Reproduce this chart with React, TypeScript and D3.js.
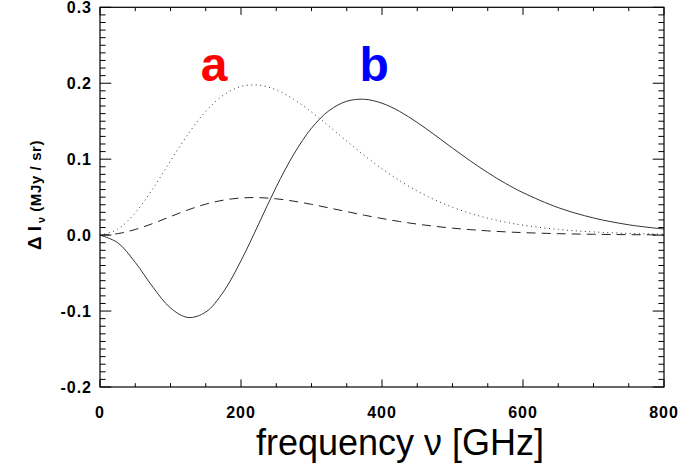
import React from "react";
import * as d3 from "d3";

const freq = [0, 25, 50, 75, 100, 125, 150, 175, 200, 225, 250, 275, 300, 325, 350, 375, 400, 425, 450, 475, 500, 525, 550, 575, 600, 650, 700, 750, 800];
const solidVals = [0, -0.0099, -0.0359, -0.0685, -0.0959, -0.1085, -0.1013, -0.0748, -0.0337, 0.0145, 0.0635, 0.1067, 0.1408, 0.164, 0.1763, 0.1789, 0.1737, 0.1629, 0.1483, 0.1318, 0.1146, 0.0979, 0.0823, 0.0682, 0.0559, 0.0362, 0.0226, 0.0136, 0.008];
const dottedVals = [0, 0.0077, 0.0295, 0.0612, 0.0976, 0.1331, 0.163, 0.1843, 0.1957, 0.1975, 0.1913, 0.1787, 0.1621, 0.1433, 0.1238, 0.1049, 0.0874, 0.0717, 0.058, 0.0464, 0.0367, 0.0287, 0.0223, 0.0171, 0.0131, 0.0075, 0.0042, 0.0023, 0.0012];
const dashedVals = [0, 0.0019, 0.0074, 0.0153, 0.0244, 0.0333, 0.0408, 0.0461, 0.0489, 0.0494, 0.0478, 0.0447, 0.0405, 0.0358, 0.031, 0.0262, 0.0219, 0.0179, 0.0145, 0.0116, 0.0092, 0.0072, 0.0056, 0.0043, 0.0033, 0.0019, 0.0011, 0.0006, 0.0003];

const xTicks = [0, 200, 400, 600, 800];
const xTickLabels = ["0", "200", "400", "600", "800"];
const yTicks = [-0.2, -0.1, 0.0, 0.1, 0.2, 0.3];
const yTickLabels = ["-0.2", "-0.1", "0.0", "0.1", "0.2", "0.3"];
const annotations = [
  { text: "a", freq: 162, value: 0.203, color: "#ff0000" },
  { text: "b", freq: 389, value: 0.203, color: "#0000ff" },
];

const W = 690;
const H = 463;
const L = 100, R = 664, T = 7.3, B = 387;

export default function App() {
  const x = d3.scaleLinear().domain([0, 800]).range([L, R]);
  const y = d3.scaleLinear().domain([-0.2, 0.3]).range([B, T]);
  const mk = (vals: number[]) =>
    d3
      .line<number>()
      .x((_, i) => x(freq[i]))
      .y((v) => y(v))
      .curve(d3.curveCatmullRom.alpha(0.5))(vals) as string;

  const xMinor = d3.range(0, 801, 50);
  const yMinor = d3.range(-20, 31, 1).map((k) => k / 100);
  const isMajorY = (v: number) => Math.abs(Math.round(v * 10) - v * 10) < 1e-6;
  const isMajorX = (v: number) => v % 200 === 0;

  const font = "'Liberation Sans', Arial, Helvetica, sans-serif";
  const xMaj = 7.6, xMin = 3.8, yMaj = 11.3, yMin = 5.6;

  return (
    <svg
      width={W}
      height={H}
      style={{ position: "absolute", left: 0, top: 0, background: "#fff" }}
      fontFamily={font}
    >
      <rect x={0} y={0} width={W} height={H} fill="#fff" />
      {/* curves */}
      <path d={mk(solidVals)} fill="none" stroke="#333" strokeWidth={1} />
      <path d={mk(dottedVals)} fill="none" stroke="#333" strokeWidth={1} strokeDasharray="1,3.5" />
      <path d={mk(dashedVals)} fill="none" stroke="#222" strokeWidth={1} strokeDasharray="9,6" />

      {/* frame */}
      <rect x={L} y={T} width={R - L} height={B - T} fill="none" stroke="#000" strokeWidth={1.2} />

      {/* x ticks */}
      {xMinor.map((v) => {
        const len = isMajorX(v) ? xMaj : xMin;
        return (
          <g key={"xt" + v}>
            <line x1={x(v)} x2={x(v)} y1={B} y2={B - len} stroke="#000" strokeWidth={1} />
            <line x1={x(v)} x2={x(v)} y1={T} y2={T + len} stroke="#000" strokeWidth={1} />
          </g>
        );
      })}
      {/* y ticks */}
      {yMinor.map((v) => {
        const len = isMajorY(v) ? yMaj : yMin;
        return (
          <g key={"yt" + v}>
            <line x1={L} x2={L + len} y1={y(v)} y2={y(v)} stroke="#000" strokeWidth={1} />
            <line x1={R} x2={R - len} y1={y(v)} y2={y(v)} stroke="#000" strokeWidth={1} />
          </g>
        );
      })}

      {/* tick labels */}
      {xTicks.map((v, i) => (
        <text
          key={"xl" + v}
          x={x(v)}
          y={418}
          textAnchor="middle"
          fontSize={16}
          fontWeight="bold"
          letterSpacing={1}
        >
          {xTickLabels[i]}
        </text>
      ))}
      {yTicks.map((v, i) => (
        <text
          key={"yl" + v}
          x={92}
          y={y(v)}
          dy="0.36em"
          textAnchor="end"
          fontSize={16}
          fontWeight="bold"
          letterSpacing={1}
        >
          {yTickLabels[i]}
        </text>
      ))}

      {/* axis titles */}
      <text x={400} y={455} textAnchor="middle" fontSize={36}>
        frequency ν [GHz]
      </text>
      <text
        transform="translate(41,195) rotate(-90)"
        textAnchor="middle"
        fontWeight="bold"
      >
        <tspan fontSize={19}>Δ I</tspan>
        <tspan fontSize={11} dy={4} dx={3}>ν</tspan>
        <tspan fontSize={15} dy={-4} dx={5} letterSpacing={0.6}>(MJy / sr)</tspan>
      </text>

      {/* annotations */}
      {annotations.map((a) => (
        <text
          key={a.text}
          x={x(a.freq)}
          y={y(a.value)}
          textAnchor="middle"
          fontSize={48}
          fontWeight="bold"
          fill={a.color}
        >
          {a.text}
        </text>
      ))}
    </svg>
  );
}
